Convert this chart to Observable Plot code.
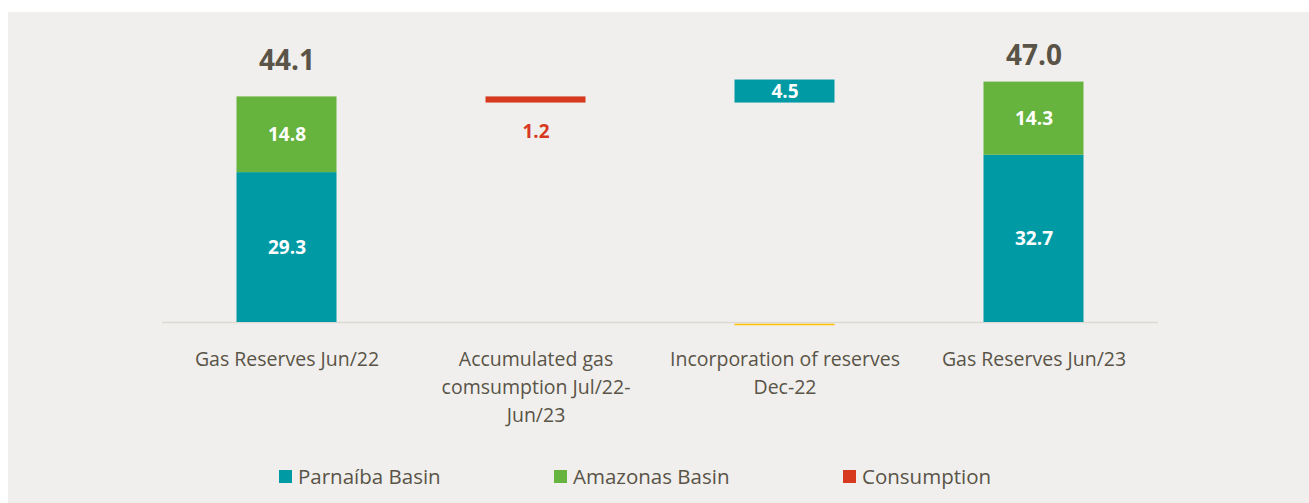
<!DOCTYPE html>
<html>
<head>
<meta charset="utf-8">
<script src="https://cdn.jsdelivr.net/npm/d3@7"></script>
<script src="https://cdn.jsdelivr.net/npm/@observablehq/plot@0.6"></script>
<style>
  html, body { margin: 0; padding: 0; background: #ffffff; width: 1309px; height: 503px; overflow: hidden; }
  #panel { position: absolute; left: 8px; top: 12px; right: 0; bottom: 0; background: #F0EFED; }
  #chart { position: absolute; left: 0; top: 12px; }
  #legend { position: absolute; left: 0; top: 0; width: 1309px; height: 503px; pointer-events: none;
            font-family: "Open Sans", sans-serif; font-size: 20.5px; color: #595447; }
  .item { position: absolute; top: 462px; display: flex; align-items: center; height: 28px; }
  .sw { width: 13px; height: 13px; margin-right: 6px; }
</style>
</head>
<body>
<div id="panel"></div>
<div id="chart"></div>
<div id="legend"></div>
<script>
// ---- data ----
const categories = [
  "Gas Reserves Jun/22",
  "Accumulated gas\ncomsumption Jul/22-\nJun/23",
  "Incorporation of reserves\nDec-22",
  "Gas Reserves Jun/23"
];
const parnaiba = [29.3, null, 4.5, 32.7];
const amazonas = [14.8, null, null, 14.3];
const consumption = [null, 1.2, null, null];
const totals = [44.1, null, null, 47.0];
const baselineMarker = [null, null, 0, null];
const seriesNames = ["Parnaíba Basin", "Amazonas Basin", "Consumption"];
const seriesColors = ["#009AA5", "#66B33E", "#D7391F"];

// ---- build floating / stacked segments ----
const rows = [];
const start = parnaiba[0] + amazonas[0];
const afterConsumption = start - consumption[1];
categories.forEach((c, i) => {
  if (i === 0 || i === 3) {
    rows.push({cat: c, series: seriesNames[0], y1: 0, y2: parnaiba[i], value: parnaiba[i]});
    rows.push({cat: c, series: seriesNames[1], y1: parnaiba[i], y2: parnaiba[i] + amazonas[i], value: amazonas[i]});
  } else if (i === 1) {
    rows.push({cat: c, series: seriesNames[2], y1: afterConsumption, y2: start, value: consumption[i]});
  } else if (i === 2) {
    rows.push({cat: c, series: seriesNames[0], y1: afterConsumption, y2: afterConsumption + parnaiba[i], value: parnaiba[i]});
  }
});
const inside = rows.filter(d => d.series !== seriesNames[2]);
const consRows = rows.filter(d => d.series === seriesNames[2]);
const totalRows = categories.map((c, i) => ({cat: c, v: totals[i], i})).filter(d => d.v != null);
const markerRows = categories.map((c, i) => ({cat: c, v: baselineMarker[i]})).filter(d => d.v != null);

const inset = 74.5;
const fmt = d3.format(".1f");
const textColor = "#595447";

const chart = Plot.plot({
  width: 1309,
  height: 430,
  marginLeft: 162,
  marginRight: 151,
  marginTop: 55,
  marginBottom: 120,
  style: {background: "transparent", fontFamily: "'Open Sans', sans-serif"},
  x: {type: "band", domain: categories, padding: 0},
  y: {domain: [0, 49.85], axis: null},
  color: {domain: seriesNames, range: seriesColors},
  marks: [
    Plot.ruleY([0], {stroke: "#DCDAD4", strokeWidth: 1.3}),
    Plot.tickY(markerRows, {x: "cat", y: "v", stroke: "#FFC000", strokeWidth: 1.5, dy: 2, insetLeft: inset, insetRight: inset}),
    Plot.barY(rows, {x: "cat", y1: "y1", y2: "y2", fill: "series", insetLeft: inset, insetRight: inset}),
    Plot.text(inside, {x: "cat", y: d => (d.y1 + d.y2) / 2, text: d => fmt(d.value), fill: "white", fontWeight: "bold", fontSize: 19}),
    Plot.text(consRows, {x: "cat", y: "y1", text: d => fmt(d.value), fill: "#D7391F", fontWeight: "bold", fontSize: 19, dy: 29}),
    Plot.text(totalRows.filter(d => d.i === 0), {x: "cat", y: "v", text: d => fmt(d.v), fill: textColor, fontWeight: "bold", fontSize: 28, dy: -36}),
    Plot.text(totalRows.filter(d => d.i === 3), {x: "cat", y: "v", text: d => fmt(d.v), fill: textColor, fontWeight: "bold", fontSize: 28, dy: -26}),
    Plot.axisX({tickSize: 0, tickPadding: 24, fontSize: 19.5, lineHeight: 1.42, color: textColor, label: null})
  ]
});
document.getElementById("chart").appendChild(chart);

// ---- legend ----
const legendLeft = [279, 554, 843];
const legend = document.getElementById("legend");
seriesNames.forEach((name, i) => {
  const item = document.createElement("div");
  item.className = "item";
  item.style.left = legendLeft[i] + "px";
  const sw = document.createElement("div");
  sw.className = "sw";
  sw.style.background = seriesColors[i];
  const t = document.createElement("span");
  t.textContent = name;
  item.appendChild(sw);
  item.appendChild(t);
  legend.appendChild(item);
});
</script>
</body>
</html>
